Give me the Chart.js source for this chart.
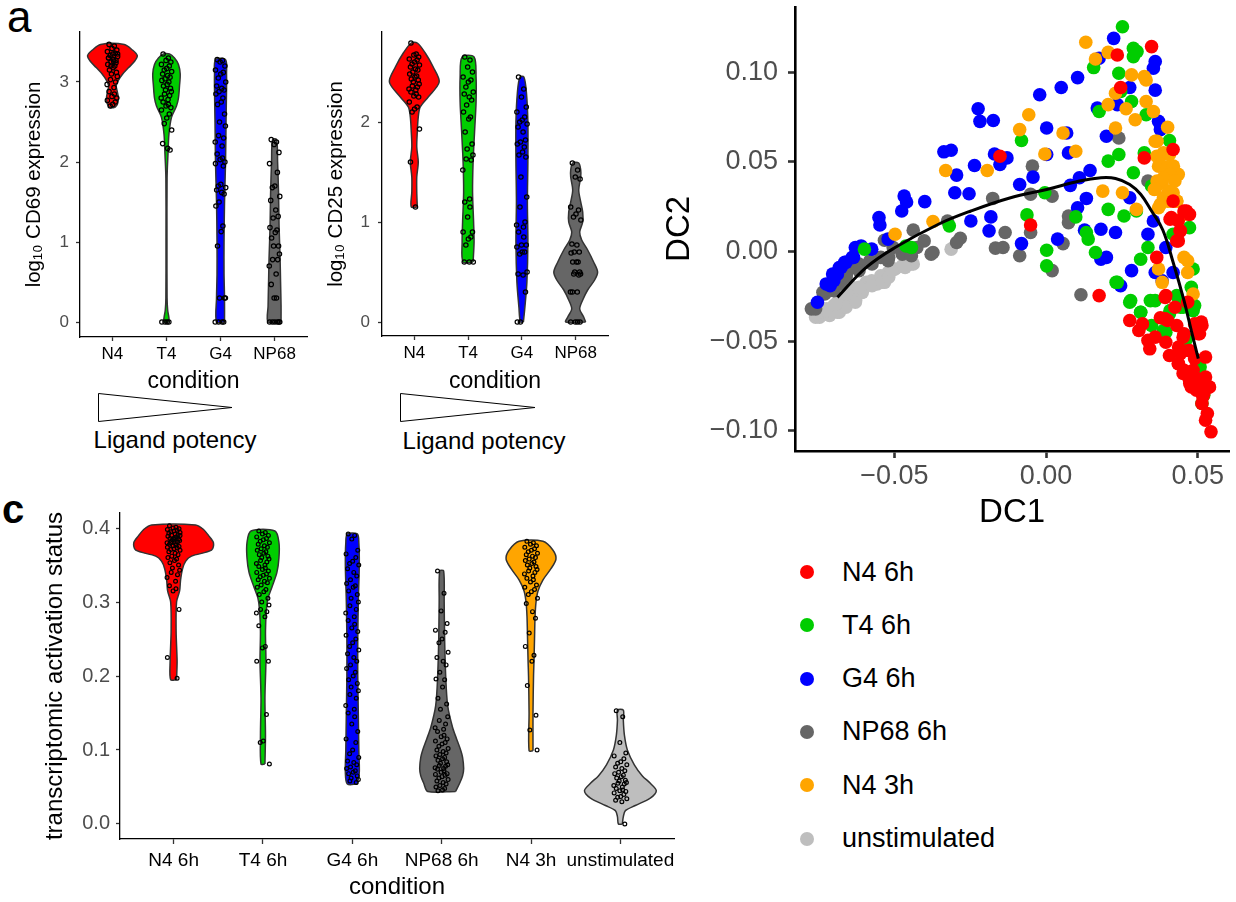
<!DOCTYPE html>
<html>
<head>
<meta charset="utf-8">
<script src="https://cdn.jsdelivr.net/npm/chart.js"></script>
<style>
  body { margin: 0; background: #fff; width: 1236px; height: 902px; position: relative; overflow: hidden;
         font-family: "Liberation Sans", "DejaVu Sans", Arial, sans-serif; }
  canvas { position: absolute; }
  .lbl { position: absolute; line-height: 1; color: #000; white-space: nowrap; }
  .leg-dot { position: absolute; width: 14px; height: 14px; border-radius: 50%; }
</style>
</head>
<body>
<div class="lbl" style="left:7px;top:-5px;font-size:44px">a</div>
<div class="lbl" style="left:2px;top:489px;font-size:40px;font-weight:bold">c</div>

<svg width="1236" height="902" style="position:absolute;left:0;top:0;pointer-events:none">
  <polygon points="98.5,393.5 98.5,421.5 232,407.5" fill="#fff" stroke="#000" stroke-width="1"/>
  <polygon points="400.5,393.5 400.5,421.5 535,407.5" fill="#fff" stroke="#000" stroke-width="1"/>
</svg>
<div class="lbl" style="left:75px;width:200px;text-align:center;top:428px;font-size:24px">Ligand potency</div>
<div class="lbl" style="left:384px;width:200px;text-align:center;top:429px;font-size:24px">Ligand potency</div>

<canvas id="cd69" width="320" height="400" style="left:0;top:0"></canvas>
<canvas id="cd25" width="320" height="400" style="left:302px;top:0"></canvas>
<canvas id="dc" width="576" height="535" style="left:660px;top:0"></canvas>
<canvas id="act" width="700" height="412" style="left:0;top:490px"></canvas>
<div id="legend"></div>

<script>
// ---- categories / colours ----
const ligandCats = ['N4', 'T4', 'G4', 'NP68'];
const ligandColors = ['#FF0000', '#00CD00', '#0000FF', '#666666'];
const actCats = ['N4 6h', 'T4 6h', 'G4 6h', 'NP68 6h', 'N4 3h', 'unstimulated'];
const actColors = ['#FF0000', '#00CD00', '#0000FF', '#666666', '#FFA500', '#BEBEBE'];

// ---- tick labels ----
const cd69Ticks = [0, 1, 2, 3];
const cd25Ticks = [0, 1, 2];
const actTicks = [0, 0.1, 0.2, 0.3, 0.4];
const dc1Ticks = [-0.05, 0, 0.05];
const dc2Ticks = [-0.10, -0.05, 0, 0.05, 0.10];

// ---- violin outlines: value levels and half widths (in category units) ----
const cd69Levels = [
  [2.68, 2.72, 2.8, 2.88, 2.95, 3.02, 3.1, 3.18, 3.26, 3.33, 3.4, 3.47],
  [0, 0.05, 0.15, 0.3, 1.0, 1.8, 2.1, 2.35, 2.56, 2.7, 2.8, 2.95, 3.1, 3.22, 3.3, 3.35],
  [0, 0.3, 0.6, 1.0, 1.5, 2.0, 2.5, 2.9, 3.1, 3.28],
  [0, 0.2, 0.5, 0.8, 1.2, 1.6, 2.0, 2.28]
];
const cd69Widths = [
  [0.04, 0.09, 0.11, 0.09, 0.07, 0.11, 0.19, 0.3, 0.41, 0.46, 0.37, 0.22],
  [0.046, 0.046, 0.022, 0.011, 0.009, 0.011, 0.028, 0.046, 0.093, 0.185, 0.222, 0.241, 0.254, 0.222, 0.148, 0.056],
  [0.074, 0.074, 0.065, 0.065, 0.074, 0.093, 0.102, 0.111, 0.111, 0.093],
  [0.12, 0.12, 0.111, 0.102, 0.083, 0.074, 0.056, 0.037]
];
const cd25Levels = [
  [1.15, 1.3, 1.45, 1.6, 1.75, 1.9, 2.05, 2.15, 2.25, 2.4, 2.55, 2.69, 2.79],
  [0.6, 0.8, 1.0, 1.3, 1.6, 1.9, 2.2, 2.45, 2.65],
  [0, 0.15, 0.4, 0.8, 1.2, 1.6, 2.0, 2.3, 2.45],
  [0, 0.05, 0.13, 0.22, 0.32, 0.42, 0.5, 0.6, 0.72, 0.82, 0.9, 1.0, 1.1, 1.2, 1.32, 1.45, 1.52, 1.59]
];
const cd25Widths = [
  [0.056, 0.046, 0.046, 0.074, 0.046, 0.056, 0.074, 0.111, 0.259, 0.463, 0.352, 0.204, 0.056],
  [0.093, 0.111, 0.102, 0.083, 0.093, 0.12, 0.148, 0.148, 0.111],
  [0.028, 0.056, 0.093, 0.111, 0.102, 0.111, 0.111, 0.083, 0.037],
  [0.185, 0.148, 0.074, 0.13, 0.222, 0.352, 0.407, 0.333, 0.222, 0.111, 0.074, 0.13, 0.13, 0.093, 0.056, 0.093, 0.093, 0.056]
];
const actLevels = [
  [0.195, 0.22, 0.26, 0.3, 0.315, 0.33, 0.345, 0.355, 0.362, 0.37, 0.38, 0.39, 0.398, 0.404],
  [0.081, 0.12, 0.17, 0.22, 0.26, 0.29, 0.305, 0.32, 0.34, 0.36, 0.38, 0.396],
  [0.054, 0.07, 0.1, 0.15, 0.2, 0.25, 0.3, 0.35, 0.38, 0.392],
  [0.044, 0.055, 0.065, 0.075, 0.09, 0.1, 0.115, 0.13, 0.16, 0.2, 0.25, 0.3, 0.342],
  [0.099, 0.15, 0.2, 0.22, 0.25, 0.28, 0.3, 0.315, 0.33, 0.345, 0.358, 0.37, 0.382],
  [0.0, 0.01, 0.018, 0.025, 0.035, 0.045, 0.055, 0.065, 0.08, 0.1, 0.12, 0.14, 0.154]
];
const actWidths = [
  [0.033, 0.039, 0.028, 0.033, 0.067, 0.078, 0.1, 0.134, 0.2, 0.424, 0.446, 0.39, 0.335, 0.246],
  [0.022, 0.028, 0.022, 0.033, 0.028, 0.039, 0.056, 0.1, 0.156, 0.179, 0.179, 0.134],
  [0.056, 0.078, 0.073, 0.067, 0.061, 0.061, 0.067, 0.078, 0.073, 0.056],
  [0.156, 0.201, 0.234, 0.246, 0.234, 0.212, 0.167, 0.123, 0.067, 0.045, 0.033, 0.028, 0.022],
  [0.022, 0.022, 0.028, 0.033, 0.039, 0.045, 0.056, 0.078, 0.134, 0.223, 0.279, 0.246, 0.134],
  [0.022, 0.033, 0.056, 0.167, 0.335, 0.402, 0.335, 0.246, 0.156, 0.078, 0.045, 0.033, 0.033]
];

// ---- single cells ----
const cd69Cells = [
  [3.47, 3.45, 3.42, 3.4, 3.38, 3.36, 3.35, 3.33, 3.32, 3.3, 3.28, 3.27, 3.25, 3.22, 3.2, 3.18, 3.15, 3.12, 3.1, 3.07,
   3.03, 3.0, 2.97, 2.93, 2.88, 2.85, 2.82, 2.8, 2.77, 2.75, 2.72, 2.7, 3.35, 3.3, 3.26, 3.24, 3.2],
  [3.35, 3.3, 3.27, 3.25, 3.22, 3.2, 3.17, 3.15, 3.13, 3.1, 3.08, 3.06, 3.04, 3.02, 3.0, 2.97, 2.95, 2.92, 2.9, 2.88,
   2.85, 2.83, 2.8, 2.78, 2.75, 2.72, 2.7, 2.68, 2.65, 2.6, 2.55, 2.48, 2.4, 2.23, 2.17, 2.15, 0, 0, 0, 0],
  [3.28, 3.27, 3.25, 3.2, 3.15, 3.12, 3.1, 3.05, 3.0, 2.95, 2.92, 2.9, 2.88, 2.85, 2.8, 2.75, 2.72, 2.6, 2.5, 2.45,
   2.33, 2.3, 2.25, 2.2, 2.1, 2.05, 2.03, 2.0, 1.98, 1.95, 1.72, 1.7, 1.68, 1.65, 1.62, 1.6, 1.5, 1.45, 1.2, 1.13,
   0.95, 0.3, 0.3, 0.3, 0, 0, 0, 0],
  [2.28, 2.25, 2.22, 2.12, 1.98, 1.87, 1.7, 1.68, 1.57, 1.52, 1.4, 1.32, 1.3, 1.18, 1.15, 1.12, 1.05, 0.95, 0.95, 0.85,
   0.78, 0.78, 0.7, 0.6, 0.47, 0.3, 0.3, 0, 0, 0, 0, 0, 0]
];
const cd25Cells = [
  [2.79, 2.68, 2.67, 2.65, 2.63, 2.62, 2.6, 2.58, 2.57, 2.55, 2.53, 2.52, 2.5, 2.48, 2.46, 2.45, 2.43, 2.42, 2.4, 2.38,
   2.36, 2.35, 2.33, 2.32, 2.3, 2.28, 2.26, 2.25, 2.2, 2.15, 2.13, 2.1, 1.93, 1.6, 1.15],
  [2.65, 2.62, 2.55, 2.5, 2.45, 2.42, 2.4, 2.35, 2.3, 2.28, 2.25, 2.22, 2.17, 2.1, 2.05, 2.03, 1.9, 1.78, 1.73, 1.67,
   1.63, 1.62, 1.52, 1.23, 1.2, 1.15, 1.05, 0.9, 0.9, 0.85, 0.83, 0.77, 0.6, 0.6, 0.6],
  [2.45, 2.33, 2.25, 2.15, 2.1, 2.05, 2.02, 2.0, 1.98, 1.95, 1.9, 1.82, 1.8, 1.78, 1.75, 1.7, 1.67, 1.65, 1.45, 1.25,
   1.15, 1.0, 0.97, 0.95, 0.9, 0.85, 0.77, 0.77, 0.75, 0.7, 0.7, 0.68, 0.5, 0.48, 0.47, 0.3, 0, 0],
  [1.59, 1.52, 1.45, 1.43, 1.15, 1.12, 1.08, 1.05, 1.02, 0.78, 0.77, 0.7, 0.7, 0.69, 0.6, 0.6, 0.6, 0.5, 0.5, 0.48,
   0.48, 0.47, 0.3, 0.3, 0.3, 0, 0, 0, 0]
];
const actCells = [
  [0.403, 0.401, 0.4, 0.399, 0.398, 0.397, 0.396, 0.395, 0.394, 0.393, 0.392, 0.391, 0.39, 0.389, 0.388, 0.387, 0.386,
   0.385, 0.384, 0.383, 0.382, 0.381, 0.38, 0.379, 0.378, 0.377, 0.376, 0.375, 0.374, 0.373, 0.372, 0.371, 0.37, 0.368,
   0.366, 0.364, 0.362, 0.36, 0.358, 0.356, 0.353, 0.35, 0.346, 0.343, 0.34, 0.337, 0.333, 0.328, 0.322, 0.318, 0.315,
   0.29, 0.225, 0.197, 0.385, 0.38, 0.39],
  [0.396, 0.394, 0.392, 0.39, 0.388, 0.386, 0.384, 0.382, 0.38, 0.378, 0.376, 0.374, 0.372, 0.37, 0.368, 0.366, 0.364,
   0.362, 0.36, 0.358, 0.356, 0.354, 0.352, 0.35, 0.348, 0.346, 0.344, 0.342, 0.34, 0.338, 0.336, 0.334, 0.332, 0.33,
   0.328, 0.326, 0.323, 0.32, 0.317, 0.314, 0.31, 0.305, 0.3, 0.296, 0.29, 0.287, 0.285, 0.28, 0.268, 0.24, 0.238, 0.22,
   0.22, 0.148, 0.112, 0.11, 0.081],
  [0.392, 0.39, 0.385, 0.37, 0.365, 0.36, 0.355, 0.352, 0.35, 0.345, 0.34, 0.335, 0.33, 0.325, 0.322, 0.32, 0.315, 0.31,
   0.305, 0.3, 0.295, 0.29, 0.285, 0.28, 0.275, 0.27, 0.265, 0.26, 0.255, 0.25, 0.245, 0.24, 0.235, 0.23, 0.225, 0.22,
   0.215, 0.21, 0.205, 0.2, 0.195, 0.19, 0.185, 0.18, 0.175, 0.17, 0.16, 0.155, 0.15, 0.145, 0.135, 0.125, 0.115, 0.11,
   0.1, 0.095, 0.09, 0.085, 0.083, 0.08, 0.077, 0.075, 0.072, 0.07, 0.068, 0.065, 0.062, 0.06, 0.058, 0.056],
  [0.342, 0.312, 0.288, 0.271, 0.262, 0.259, 0.25, 0.245, 0.232, 0.225, 0.22, 0.215, 0.205, 0.196, 0.195, 0.185, 0.17,
   0.162, 0.155, 0.145, 0.14, 0.135, 0.13, 0.128, 0.125, 0.12, 0.118, 0.115, 0.112, 0.11, 0.108, 0.105, 0.102, 0.1,
   0.098, 0.096, 0.094, 0.092, 0.09, 0.088, 0.086, 0.084, 0.082, 0.08, 0.079, 0.078, 0.076, 0.075, 0.074, 0.072, 0.07,
   0.068, 0.067, 0.066, 0.064, 0.062, 0.06, 0.058, 0.056, 0.054, 0.052, 0.05, 0.048, 0.046, 0.045],
  [0.382, 0.38, 0.378, 0.376, 0.374, 0.372, 0.37, 0.368, 0.366, 0.364, 0.362, 0.36, 0.358, 0.356, 0.354, 0.352, 0.35,
   0.348, 0.346, 0.344, 0.342, 0.34, 0.338, 0.335, 0.332, 0.33, 0.327, 0.323, 0.32, 0.317, 0.314, 0.31, 0.305, 0.298,
   0.287, 0.278, 0.258, 0.24, 0.228, 0.22, 0.187, 0.147, 0.127, 0.1],
  [0.153, 0.145, 0.11, 0.096, 0.092, 0.088, 0.084, 0.082, 0.08, 0.077, 0.075, 0.072, 0.07, 0.068, 0.066, 0.064, 0.062,
   0.059, 0.058, 0.056, 0.055, 0.054, 0.052, 0.05, 0.048, 0.046, 0.045, 0.044, 0.042, 0.04, 0.037, 0.036, 0.034, 0.032,
   0.03, 0.0]
];
// fixed jitter pattern (fraction of the jitter width)
const JITTER = [-0.62, 0.35, -0.08, 0.81, -0.93, 0.52, 0.05, -0.41, 0.96, -0.71, 0.22, 0.66, -0.27, -0.85, 0.44,
                0.13, -0.55, 0.74, -0.18, 0.9, -0.36, 0.58, -0.98, 0.29];

// ---- diffusion map cells [DC1, DC2] ----
const dcN4_6h = [[0.0348,0.1143],[0.0235,0.1096],[0.0246,0.0915],[-0.0152,0.0531],[0.0419,0.0569],[0.0324,0.0522],
  [-0.0051,0.0148],[0.0175,-0.0246],[0.0455,0.0226],[0.0413,0.0189],[0.0443,0.0115],[0.0431,0.0059],[0.0365,-0.0033],
  [0.0395,-0.0246],[0.0401,-0.0385],[0.0276,-0.0385],[0.0318,-0.0404],[0.0306,-0.0441],[0.0342,-0.0543],[0.036,-0.0478],
  [0.0395,-0.0506],[0.0407,-0.058],[0.0437,-0.0533],[0.0455,-0.0459],[0.049,-0.0404],[0.0514,-0.0413],[0.0502,-0.0459],
  [0.0437,-0.0626],[0.0455,-0.0663],[0.0473,-0.0719],[0.049,-0.07],[0.0508,-0.0737],[0.0526,-0.07],[0.052,-0.0793],
  [0.0538,-0.0756],[0.0514,-0.0848],[0.0532,-0.0904],[0.0526,-0.0941],[0.0544,-0.1006],[0.0479,-0.0756],[0.049,-0.0598],
  [0.0526,-0.0589],[0.0425,-0.0311],[0.0467,-0.0283],[0.0473,0.0207],[0.0419,0.0281],[0.0377,-0.037],[0.0336,-0.0496],
  [0.0473,-0.0552],[0.0443,-0.057],[0.0409,0.018],[0.0436,0.0171],[0.0463,0.0226],[0.0442,0.0115],[0.0436,0.0059],
  [0.0393,-0.0256],[0.0393,-0.0376],[0.0431,-0.0413],[0.0452,-0.0478],[0.0436,-0.0626],[0.0452,-0.0681],
  [0.0474,-0.0737],[0.0496,-0.0774],[0.0517,-0.0811],[0.0539,-0.0756],[0.0517,-0.0718],[0.0485,-0.0663],
  [0.0512,-0.0394],[0.0506,-0.0459],[0.0469,-0.0552]];
const dcT4_6h = [[0.0252,0.1254],[0.0288,0.1133],[0.03,0.1115],[0.0288,0.1087],[0.0157,0.1026],[0.024,0.0994],
  [0.0246,0.0893],[0.0282,0.0837],[0.0175,0.0781],[0.033,0.0763],[-0.0081,0.0619],[0.0407,0.0619],[0.0324,0.055],
  [0.024,0.0541],[0.0205,0.0504],[0.0288,0.0439],[-0.0004,0.0328],[0.0348,0.0365],[-0.0063,0.0204],[0.0098,0.0193],
  [0.0205,0.0235],[0.0257,0.0198],[0.0298,0.0226],[0.0133,0.0106],[0.0139,0.0069],[0.0163,-0.0006],[0.0002,0.0007],
  [0.0002,-0.008],[0.0336,0.0022],[0.0312,-0.0043],[0.0473,0.0133],[0.0419,0.0096],[0.0485,-0.0098],[0.0235,-0.0172],
  [0.0276,-0.0283],[0.0312,-0.0339],[0.0348,-0.0413],[0.0395,-0.045],[0.0431,-0.0246],[0.0443,-0.0311],[0.049,-0.0302],
  [0.046,-0.0496],[0.0508,-0.0644],[0.0514,-0.0848],[0.052,-0.0802],[-0.0599,0.0013],[-0.0462,0.0031],[-0.0444,0.0022],
  [-0.0319,0.0143],[0.036,-0.0274],[0.0407,-0.0348],[0.0479,-0.02],[0.0279,-0.0274],[0.0312,-0.0339],[0.0344,-0.0274],
  [0.0387,-0.0441],[0.0409,-0.033],[0.0452,-0.0311],[0.0485,-0.033],[0.0463,-0.0487],[0.0506,-0.0644],[0.0231,-0.0172]];
const dcG4_6h = [[0.0223,0.1189],[0.0175,0.1078],[0.036,0.106],[0.0354,0.1022],[0.0104,0.097],[0.005,0.0915],
  [-0.0021,0.0874],[0.0276,0.0915],[0.036,0.09],[0.0169,0.08],[0.0235,0.0819],[-0.0224,0.0796],[-0.0218,0.0726],
  [-0.0174,0.0731],[0.0002,0.0689],[0.0068,0.0661],[0.0371,0.0726],[0.0377,0.068],[0.0199,0.0643],[0.0002,0.0541],
  [0.0074,0.055],[-0.0337,0.0556],[-0.0313,0.0565],[-0.017,0.0544],[-0.0129,0.0522],[-0.0152,0.0485],[-0.0236,0.048],
  [-0.0295,0.0426],[-0.0087,0.0374],[-0.0043,0.0415],[0.0145,0.0452],[0.011,0.0411],[0.008,0.0369],[-0.0301,0.0328],
  [-0.0254,0.0322],[-0.0468,0.0309],[-0.046,0.0276],[-0.04,0.0278],[-0.0476,0.0226],[0.0133,0.0296],[0.0276,0.03],
  [0.0104,0.0244],[-0.0551,0.0189],[-0.0548,0.0148],[-0.0248,0.017],[-0.0182,0.0193],[-0.0188,0.0115],[-0.0521,0.0069],
  [-0.0081,0.0044],[0.0038,0.0069],[0.0127,0.0119],[0.0181,0.0124],[0.0229,0.0106],[0.0354,0.017],[0.0336,0.0096],
  [0.0395,0.0022],[0.0181,-0.0043],[0.0199,-0.0033],[0.0282,-0.0107],[0.036,-0.0117],[0.0383,-0.0163],[0.0419,-0.0117],
  [0.0246,-0.0191],[-0.0629,0.0022],[-0.061,0.0031],[-0.0575,0.0013],[-0.0635,-0.0033],[-0.0664,-0.0061],
  [-0.0676,-0.0089],[-0.0688,-0.0126],[-0.07,-0.0163],[-0.0712,-0.0191],[-0.0754,-0.0283],[-0.0725,-0.0181],
  [-0.0704,-0.0126],[-0.0682,-0.0089],[-0.066,-0.0061],[-0.0639,-0.0033]];
const dcNP68_6h = [[0.024,0.0633],[-0.0045,0.0476],[-0.0051,0.0319],[-0.0176,0.0296],[0.002,0.0309],[0.0336,0.0393],
  [0.0074,0.0198],[0.0074,0.0161],[-0.0135,0.0106],[-0.0051,0.0106],[0.0056,0.0044],[-0.0167,0.0019],[-0.0142,0.0022],
  [-0.0087,-0.0024],[0.002,-0.0107],[0.0115,-0.0241],[-0.0283,0.0074],[-0.0295,0.005],[-0.0325,0.017],[-0.0438,0.0119],
  [-0.0402,0.0059],[-0.0426,0.0022],[-0.0373,-0.0006],[-0.0533,0.0063],[-0.0504,0.0022],[-0.0474,-0.0015],
  [-0.0545,-0.0033],[-0.0581,-0.0052],[-0.0617,-0.007],[-0.064,-0.0089],[-0.0658,-0.0126],[-0.0676,-0.0181],
  [-0.07,-0.0219],[-0.073,-0.0237],[-0.076,-0.032],[-0.0521,-0.0052],[-0.0774,-0.032],[-0.0736,-0.0228],
  [-0.0704,-0.02],[-0.066,-0.0144],[-0.0617,-0.0107],[-0.0574,-0.007],[-0.0519,-0.0033],[-0.0444,-0.0024],
  [-0.0379,-0.0015]];
const dcN4_3h = [[0.0131,0.1167],[0.0163,0.1074],[0.0205,0.1111],[0.0282,0.0985],[0.0324,0.0976],[0.033,0.0957],
  [0.0229,0.0883],[0.0205,0.0819],[0.0264,0.0796],[0.033,0.0837],[0.0354,0.0781],[0.0294,0.0735],[-0.0057,0.0763],
  [-0.0087,0.068],[0.0056,0.0661],[0.0229,0.0689],[0.0401,0.0693],[0.036,0.0615],[0.0098,0.0559],[-0.0004,0.0544],
  [-0.0331,0.0452],[-0.0194,0.0452],[0.0365,0.0531],[0.0407,0.0541],[0.0371,0.0476],[0.0401,0.0467],[0.0431,0.043],
  [0.0383,0.0383],[0.0357,0.0346],[0.0419,0.0328],[0.0401,0.0281],[0.0431,0.0281],[0.0371,0.0244],[0.0187,0.0337],
  [0.0252,0.0328],[0.0298,0.0235],[-0.0373,0.0167],[-0.0498,0.0096],[0.0455,-0.0033],[0.0467,-0.0052],[0.0371,-0.0098],
  [0.0467,-0.0117],[0.0383,-0.0172],[0.0485,-0.0237],[0.0455,0.0207],[0.0366,0.0615],[0.0387,0.055],[0.0404,0.0541],
  [0.0377,0.0486],[0.0398,0.0467],[0.042,0.0476],[0.0436,0.043],[0.0409,0.043],[0.0387,0.0411],[0.0366,0.0393],
  [0.0425,0.0393],[0.0387,0.03],[0.0409,0.0282],[0.0431,0.0282],[0.0377,0.0263],[0.0404,0.0337],[0.036,0.0347]];
const dcUnstim = [[-0.076,-0.0367],[-0.0736,-0.0339],[-0.0712,-0.0348],[-0.0688,-0.0339],[-0.07,-0.0302],
  [-0.0676,-0.0293],[-0.0652,-0.0265],[-0.0629,-0.0246],[-0.064,-0.02],[-0.061,-0.0219],[-0.0593,-0.0172],
  [-0.0575,-0.0163],[-0.0557,-0.0181],[-0.0533,-0.0172],[-0.0545,-0.0135],[-0.0521,-0.0117],[-0.0498,-0.0098],
  [-0.0474,-0.008],[-0.0438,-0.007],[-0.0313,0.0013],[-0.0664,-0.0283],[-0.0724,-0.032],[-0.0682,-0.0265],
  [-0.0629,-0.0283],[-0.0747,-0.0367],[-0.0714,-0.0357],[-0.0682,-0.0339],[-0.066,-0.0311],[-0.0628,-0.0274],
  [-0.0606,-0.0228],[-0.0574,-0.0191],[-0.0541,-0.0172],[-0.0519,-0.0144],[-0.0509,-0.0107],[-0.0444,-0.007],
  [-0.0465,-0.0089],[-0.0693,-0.0292],[-0.066,-0.0237],[-0.0617,-0.02],[-0.0725,-0.033],[-0.0758,-0.0348]];
// principal curve
const curveDC1 = [-0.0688, -0.0593, -0.0498, -0.0355, -0.0248, -0.0117, 0.0002, 0.011, 0.0181, 0.0229, 0.0276, 0.0312,
                  0.0348, 0.0385, 0.0419, 0.0455, 0.0479, 0.0502];
const curveDC2 = [-0.0256, -0.0089, 0.0022, 0.0152, 0.0226, 0.03, 0.0346, 0.0393, 0.0411, 0.0407, 0.0374, 0.0319,
                  0.0226, 0.012, -0.006, -0.0274, -0.0441, -0.0598];

Chart.defaults.font.family = '"Liberation Sans", "DejaVu Sans", Arial, sans-serif';

function violins(levels, widths, colors) {
  return levels.map((ys, i) => {
    const ws = widths[i];
    const pts = [];
    ys.forEach((y, k) => pts.push({x: i + ws[k], y: y}));
    for (let k = ys.length - 1; k >= 0; k--) pts.push({x: i - ws[k], y: ys[k]});
    pts.push(pts[0]);
    return {
      data: pts, fill: 'shape', backgroundColor: colors[i], borderColor: '#333333', borderWidth: 1.5,
      pointRadius: 0, tension: 0.3, order: 2
    };
  });
}

function cells(values, amp, radius) {
  return values.map((vals, i) => ({
    data: vals.map((y, k) => ({x: i + JITTER[k % JITTER.length] * amp, y: y})),
    showLine: false, pointRadius: radius, pointBorderWidth: 1.2, pointBorderColor: '#000',
    pointBackgroundColor: 'rgba(0,0,0,0)', order: 1
  }));
}

function xAxis(o) {
  return {
    type: 'linear', min: o.min, max: o.max,
    afterBuildTicks: s => { s.ticks = o.ticks.map(v => ({value: v})); },
    afterFit: s => { s.height = o.size; s.paddingLeft = 0; s.paddingRight = 0; },
    ticks: {callback: o.fmt, color: o.color, font: {size: o.tickSize}, padding: o.pad,
            autoSkip: false, maxRotation: 0, minRotation: 0},
    grid: {display: true, drawOnChartArea: false, drawTicks: true, tickLength: o.tickLen,
           tickWidth: o.lw, tickColor: '#333333'},
    border: {display: true, color: '#000', width: o.lw},
    title: {display: true, text: o.title, color: '#000', font: {size: o.titleSize},
            padding: {top: 0, bottom: o.titlePad}}
  };
}

function yAxis(o) {
  return {
    type: 'linear', min: o.min, max: o.max,
    afterBuildTicks: s => { s.ticks = o.ticks.map(v => ({value: v})); },
    afterFit: s => { s.width = o.size; s.paddingTop = 0; s.paddingBottom = 0; },
    ticks: {callback: o.fmt, color: '#4D4D4D', font: {size: o.tickSize}, padding: o.pad, autoSkip: false},
    grid: {display: true, drawOnChartArea: false, drawTicks: true, tickLength: o.tickLen,
           tickWidth: o.lw, tickColor: '#333333'},
    border: {display: true, color: '#000', width: o.lw},
    title: {display: true, text: o.title, color: '#000', font: {size: o.titleSize},
            padding: {top: o.titlePad, bottom: 0}}
  };
}

function baseOptions(pad, scales) {
  return {
    responsive: false, animation: false, events: [],
    layout: {padding: pad},
    plugins: {legend: {display: false}, tooltip: {enabled: false}},
    scales: scales
  };
}

// panel a, CD69
new Chart(document.getElementById('cd69'), {
  type: 'line',
  data: {datasets: [...cells(cd69Cells, 0.1, 2.2), ...violins(cd69Levels, cd69Widths, ligandColors)]},
  options: baseOptions({top: 32, right: 13, left: 0, bottom: 0}, {
    x: xAxis({min: -0.6, max: 3.6, ticks: [0, 1, 2, 3], fmt: v => ligandCats[v], color: '#000', tickSize: 17,
              pad: 3, size: 63, tickLen: 4, lw: 1.3, title: 'condition', titleSize: 23, titlePad: 4.5}),
    y: yAxis({min: -0.1875, max: 3.625, ticks: cd69Ticks, fmt: v => String(v), tickSize: 17, pad: 7,
              size: 80, tickLen: 4, lw: 1.3, title: 'log\u2081\u2080 CD69 expression', titleSize: 20.5, titlePad: 22})
  })
});

// panel a, CD25
new Chart(document.getElementById('cd25'), {
  type: 'line',
  data: {datasets: [...cells(cd25Cells, 0.1, 2.2), ...violins(cd25Levels, cd25Widths, ligandColors)]},
  options: baseOptions({top: 32, right: 14, left: 0, bottom: 0}, {
    x: xAxis({min: -0.6, max: 3.6, ticks: [0, 1, 2, 3], fmt: v => ligandCats[v], color: '#000', tickSize: 17,
              pad: 3, size: 64, tickLen: 4, lw: 1.3, title: 'condition', titleSize: 23, titlePad: 4.5}),
    y: yAxis({min: -0.14, max: 2.9, ticks: cd25Ticks, fmt: v => String(v), tickSize: 17, pad: 8,
              size: 80, tickLen: 4, lw: 1.3, title: 'log\u2081\u2080 CD25 expression', titleSize: 20.5, titlePad: 22})
  })
});

// panel c
new Chart(document.getElementById('act'), {
  type: 'line',
  data: {datasets: [...cells(actCells, 0.075, 1.9), ...violins(actLevels, actWidths, actColors)]},
  options: baseOptions({top: 23, right: 26, left: 0, bottom: 0}, {
    x: xAxis({min: -0.6, max: 5.6, ticks: [0, 1, 2, 3, 4, 5], fmt: v => actCats[v], color: '#000', tickSize: 19,
              pad: 5, size: 63, tickLen: 5, lw: 1.3, title: 'condition', titleSize: 24, titlePad: 0}),
    y: yAxis({min: -0.0203, max: 0.4203, ticks: actTicks, fmt: v => v.toFixed(1), tickSize: 20, pad: 6,
              size: 120, tickLen: 4, lw: 1.3, title: 'transcriptomic activation status', titleSize: 24, titlePad: 40.6})
  })
});

// panel b, diffusion map
const dcGroups = [dcN4_6h, dcT4_6h, dcG4_6h, dcNP68_6h, dcN4_3h, dcUnstim];
const dcOrder = [1, 3, 4, 5, 2, 6];
const dcFmt = v => (v < -1e-9 ? '\u2212' : '') + Math.abs(v).toFixed(2);
const dcSets = dcGroups.map((g, i) => ({
  data: g.map(p => ({x: p[0], y: p[1]})), showLine: false, pointRadius: 6.8, pointBorderWidth: 0,
  pointBackgroundColor: actColors[i], pointBorderColor: actColors[i], order: dcOrder[i], clip: false
}));
dcSets.push({
  data: curveDC1.map((x, k) => ({x: x, y: curveDC2[k]})), borderColor: '#000', borderWidth: 3,
  pointRadius: 0, tension: 0.4, fill: false, order: 0
});
new Chart(document.getElementById('dc'), {
  type: 'line',
  data: {datasets: dcSets},
  options: baseOptions({top: 5, right: 0, left: 0, bottom: 0}, {
    x: xAxis({min: -0.0828, max: 0.0604, ticks: dc1Ticks, fmt: dcFmt, color: '#4D4D4D', tickSize: 27,
              pad: 2.3, size: 84, tickLen: 7, lw: 2.6, title: 'DC1', titleSize: 33, titlePad: 2.2}),
    y: yAxis({min: -0.1113, max: 0.1365, ticks: dc2Ticks, fmt: dcFmt, tickSize: 27, pad: 10,
              size: 135, tickLen: 7, lw: 2.6, title: 'DC2', titleSize: 33, titlePad: 0})
  })
});

// legend for the diffusion map
const legend = document.getElementById('legend');
actCats.forEach((name, i) => {
  const cy = 572 + 53.3 * i;
  const dot = document.createElement('div');
  dot.className = 'leg-dot';
  dot.style.left = '800px';
  dot.style.top = (cy - 7) + 'px';
  dot.style.background = actColors[i];
  legend.appendChild(dot);
  const t = document.createElement('div');
  t.className = 'lbl';
  t.style.left = '842px';
  t.style.top = (cy - 13.5) + 'px';
  t.style.fontSize = '27px';
  t.textContent = name;
  legend.appendChild(t);
});
</script>
</body>
</html>
